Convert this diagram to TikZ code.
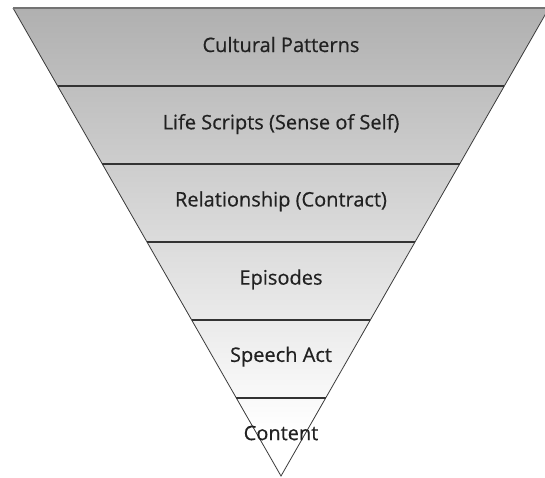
\documentclass[tikz,border=0pt]{standalone}
\usepackage{fontspec}
\newfontfamily\bandfont{Open Sans}[FakeBold=0.5]
\usepackage{tikz}
\usetikzlibrary{positioning,calc}
\definecolor{bandtop}{HTML}{B0B0B0}
\definecolor{edgegray}{HTML}{3A3A3A}

\tikzset{
  band/.style={font=\bandfont\fontsize{20}{24}\selectfont, text=black!87},
  bandline/.style={draw=black!80, line width=1.3pt},
  rim/.style={draw=edgegray, line width=0.8pt}
}

\begin{document}
\begin{tikzpicture}[x=1pt, y=-1pt]
  \clip (0,0) rectangle (545,477);
  % corners of the funnel
  \coordinate (tl) at (13,8);
  \coordinate (tr) at (549,8);
  \coordinate (tc) at (281,8);
  \coordinate (ap) at (281,476);
  \begin{scope}
    \clip (tl) -- (tr) -- (ap) -- cycle;
    \shade[top color=bandtop, bottom color=white] (0,8) rectangle (545,430);
  \end{scope}
  \draw[rim] (tl) -- (ap) -- (tr);
  \draw[draw=black!55, line width=1.6pt] (tl) -- (tr);
  % levels
  \foreach \k in {1,...,5}
    \draw[bandline] ($(tl)!\k/6!(ap)$) -- ($(tr)!\k/6!(ap)$);
  \node[band] (cultural) at ($(tc)!0.078!(ap)$) {Cultural Patterns};
  \node[band] (scripts) at ($(tc)!0.248!(ap)$) {Life Scripts (Sense of Self)};
  \node[band] (relation) at ($(tc)!0.413!(ap)$) {Relationship (Contract)};
  \node[band] (episodes) at ($(tc)!0.580!(ap)$) {Episodes};
  \node[band] (speech) at ($(tc)!0.745!(ap)$) {Speech Act};
  \node[band] (content) at ($(tc)!0.908!(ap)$) {Content};
\end{tikzpicture}
\end{document}
